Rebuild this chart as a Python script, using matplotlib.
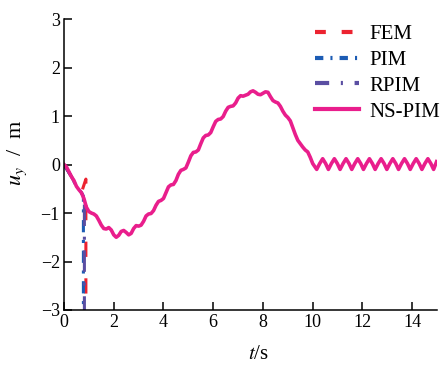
import matplotlib
matplotlib.use("Agg")
import matplotlib.pyplot as plt

plt.rcParams['font.family'] = ['Liberation Serif', 'DejaVu Serif']
plt.rcParams['mathtext.fontset'] = 'stix'

# NS-PIM displacement history
t_ns = [0.0, 0.1, 0.2, 0.3, 0.4, 0.5, 0.6, 0.7, 0.8, 0.9,
        1.0, 1.1, 1.2, 1.3, 1.4, 1.5, 1.6, 1.7, 1.8, 1.9,
        2.0, 2.1, 2.2, 2.3, 2.4, 2.5, 2.6, 2.7, 2.8, 2.9,
        3.0, 3.1, 3.2, 3.3, 3.4, 3.5, 3.6, 3.7, 3.8, 3.9,
        4.0, 4.1, 4.2, 4.3, 4.4, 4.5, 4.6, 4.7, 4.8, 4.9,
        5.0, 5.1, 5.2, 5.3, 5.4, 5.5, 5.6, 5.7, 5.8, 5.9,
        6.0, 6.1, 6.2, 6.3, 6.4, 6.5, 6.6, 6.7, 6.8, 6.9,
        7.0, 7.1, 7.2, 7.3, 7.4, 7.5, 7.6, 7.7, 7.8, 7.9,
        8.0, 8.1, 8.2, 8.3, 8.4, 8.5, 8.6, 8.7, 8.8, 8.9,
        9.0, 9.1, 9.2, 9.3, 9.4, 9.5, 9.6, 9.7, 9.8, 9.9,
        10.0, 10.16, 10.28, 10.40, 10.52, 10.63, 10.75, 10.87, 10.99, 11.10,
        11.22, 11.34, 11.46, 11.57, 11.69, 11.81, 11.93, 12.04, 12.16, 12.28,
        12.40, 12.51, 12.63, 12.75, 12.87, 12.98, 13.10, 13.22, 13.34, 13.45,
        13.57, 13.69, 13.81, 13.92, 14.04, 14.16, 14.28, 14.39, 14.51, 14.63,
        14.75, 14.86, 14.98]
u_ns = [0.00, -0.05, -0.15, -0.25, -0.33, -0.45, -0.52, -0.58, -0.70, -0.88,
        -0.97, -1.00, -1.02, -1.06, -1.15, -1.25, -1.32, -1.33, -1.30, -1.35,
        -1.45, -1.50, -1.46, -1.38, -1.36, -1.40, -1.45, -1.42, -1.32, -1.26,
        -1.27, -1.25, -1.17, -1.06, -1.02, -1.01, -0.95, -0.84, -0.76, -0.74,
        -0.70, -0.58, -0.46, -0.42, -0.41, -0.33, -0.20, -0.12, -0.10, -0.07,
        0.05, 0.18, 0.25, 0.26, 0.30, 0.43, 0.55, 0.60, 0.61, 0.66,
        0.78, 0.89, 0.93, 0.94, 0.99, 1.10, 1.18, 1.20, 1.21, 1.27,
        1.37, 1.42, 1.41, 1.43, 1.45, 1.50, 1.52, 1.49, 1.45, 1.44,
        1.47, 1.50, 1.49, 1.40, 1.32, 1.29, 1.27, 1.20, 1.10, 1.02,
        0.97, 0.90, 0.76, 0.62, 0.50, 0.43, 0.36, 0.30, 0.26, 0.15,
        0.02, -0.10, 0.02, 0.12, 0.02, -0.10, 0.02, 0.12, 0.02, -0.10,
        0.02, 0.12, 0.02, -0.10, 0.02, 0.12, 0.02, -0.10, 0.02, 0.12,
        0.02, -0.10, 0.02, 0.12, 0.02, -0.10, 0.02, 0.12, 0.02, -0.10,
        0.02, 0.12, 0.02, -0.10, 0.02, 0.12, 0.02, -0.10, 0.02, 0.12,
        0.02, -0.10, 0.06]

# the other three methods diverge shortly after t = 0.8 s
t_fem = [0.0, 0.3, 0.5, 0.7, 0.88, 0.88]
u_fem = [0.00, -0.25, -0.45, -0.58, -0.30, -3.5]
t_pim = [0.0, 0.3, 0.5, 0.7, 0.78, 0.78]
u_pim = [0.00, -0.25, -0.45, -0.58, -0.65, -3.5]
t_rpim = [0.0, 0.3, 0.5, 0.7, 0.82, 0.82]
u_rpim = [0.00, -0.25, -0.45, -0.58, -0.70, -3.5]

fig = plt.figure(figsize=(4.46, 3.65), dpi=100)
ax = fig.add_axes([0.1435, 0.1507, 0.8365, 0.797])

ax.plot(t_fem, u_fem, color='#ec2330', lw=2.2, dashes=(5, 7), label='FEM')
ax.plot(t_pim, u_pim, color='#1c5cb4', lw=2.2, dashes=(4, 2.5, 1, 2.5), label='PIM')
ax.plot(t_rpim, u_rpim, color='#5a4ea2', lw=2.2, dashes=(7, 3.5, 1, 3.5), label='RPIM')
ax.plot(t_ns, u_ns, color='#e91e8c', lw=2.6, solid_joinstyle='round', label='NS-PIM')

ax.set_xlim(0, 15)
ax.set_ylim(-3, 3)
ax.set_xticks([0, 2, 4, 6, 8, 10, 12, 14])
ax.set_yticks([-3, -2, -1, 0, 1, 2, 3])
ax.spines['top'].set_visible(False)
ax.spines['right'].set_visible(False)
for s in ('left', 'bottom'):
    ax.spines[s].set_linewidth(1.1)
ax.tick_params(direction='in', length=6, width=1.1, labelsize=13, pad=3)

ax.set_xlabel('$t$/s', fontsize=15)
ax.xaxis.set_label_coords(0.52, -0.12)
ax.set_ylabel('$u_y$  /  m', fontsize=16)
ax.yaxis.set_label_coords(-0.095, 0.54)

leg = ax.legend(loc='upper right', bbox_to_anchor=(1.03, 1.01), frameon=False,
                fontsize=15, handlelength=2.1, handletextpad=0.5, labelspacing=0.3,
                borderaxespad=0.0)
# legend keys get their own dash patterns so each style reads clearly
key_dashes = [(2.6, 3.8), (2.0, 1.7, 0.5, 1.7), (3.4, 2.8, 0.5, 2.8), None]
for line, d in zip(leg.get_lines(), key_dashes):
    line.set_linewidth(3)
    if d is not None:
        line.set_dashes(d)

fig.savefig('out.png', dpi=100)
